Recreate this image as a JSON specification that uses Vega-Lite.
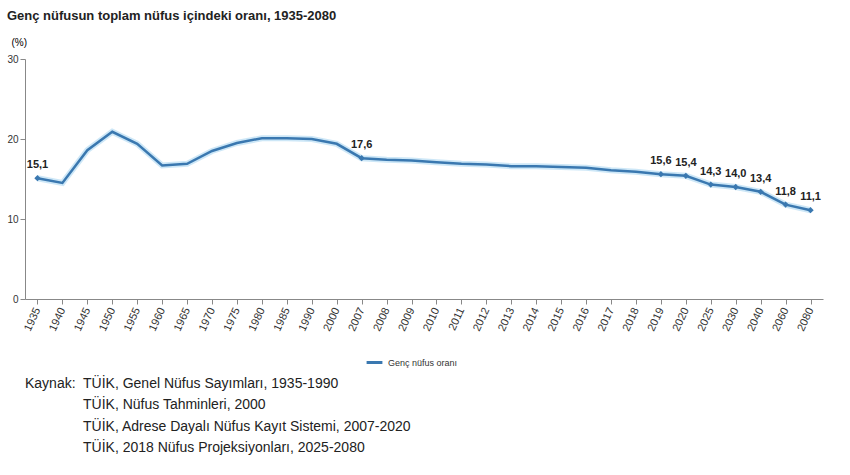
{
"$schema":"https://vega.github.io/schema/vega-lite/v6.json",
"padding":{"left":6,"top":10,"right":5,"bottom":0},
"title":{"text":"Genç nüfusun toplam nüfus içindeki oranı, 1935-2080","anchor":"start","font":"Liberation Sans","fontSize":13,"fontWeight":"bold","color":"#222","offset":14,"frame":"bounds"},
"config":{"font":"Liberation Sans","view":{"stroke":null},"concat":{"spacing":4}},
"resolve":{"legend":{"color":"independent"}},
"datasets":{
"main":[
{"yil":"1935","oran":15.1,"etiket":"15,1","seri":"Genç nüfus oranı"},
{"yil":"1940","oran":14.5,"etiket":null,"seri":"Genç nüfus oranı"},
{"yil":"1945","oran":18.6,"etiket":null,"seri":"Genç nüfus oranı"},
{"yil":"1950","oran":20.9,"etiket":null,"seri":"Genç nüfus oranı"},
{"yil":"1955","oran":19.4,"etiket":null,"seri":"Genç nüfus oranı"},
{"yil":"1960","oran":16.7,"etiket":null,"seri":"Genç nüfus oranı"},
{"yil":"1965","oran":16.9,"etiket":null,"seri":"Genç nüfus oranı"},
{"yil":"1970","oran":18.5,"etiket":null,"seri":"Genç nüfus oranı"},
{"yil":"1975","oran":19.5,"etiket":null,"seri":"Genç nüfus oranı"},
{"yil":"1980","oran":20.1,"etiket":null,"seri":"Genç nüfus oranı"},
{"yil":"1985","oran":20.1,"etiket":null,"seri":"Genç nüfus oranı"},
{"yil":"1990","oran":20.0,"etiket":null,"seri":"Genç nüfus oranı"},
{"yil":"2000","oran":19.4,"etiket":null,"seri":"Genç nüfus oranı"},
{"yil":"2007","oran":17.6,"etiket":"17,6","seri":"Genç nüfus oranı"},
{"yil":"2008","oran":17.4,"etiket":null,"seri":"Genç nüfus oranı"},
{"yil":"2009","oran":17.3,"etiket":null,"seri":"Genç nüfus oranı"},
{"yil":"2010","oran":17.1,"etiket":null,"seri":"Genç nüfus oranı"},
{"yil":"2011","oran":16.9,"etiket":null,"seri":"Genç nüfus oranı"},
{"yil":"2012","oran":16.8,"etiket":null,"seri":"Genç nüfus oranı"},
{"yil":"2013","oran":16.6,"etiket":null,"seri":"Genç nüfus oranı"},
{"yil":"2014","oran":16.6,"etiket":null,"seri":"Genç nüfus oranı"},
{"yil":"2015","oran":16.5,"etiket":null,"seri":"Genç nüfus oranı"},
{"yil":"2016","oran":16.4,"etiket":null,"seri":"Genç nüfus oranı"},
{"yil":"2017","oran":16.1,"etiket":null,"seri":"Genç nüfus oranı"},
{"yil":"2018","oran":15.9,"etiket":null,"seri":"Genç nüfus oranı"},
{"yil":"2019","oran":15.6,"etiket":"15,6","seri":"Genç nüfus oranı"},
{"yil":"2020","oran":15.4,"etiket":"15,4","seri":"Genç nüfus oranı"},
{"yil":"2025","oran":14.3,"etiket":"14,3","seri":"Genç nüfus oranı"},
{"yil":"2030","oran":14.0,"etiket":"14,0","seri":"Genç nüfus oranı"},
{"yil":"2040","oran":13.4,"etiket":"13,4","seri":"Genç nüfus oranı"},
{"yil":"2060","oran":11.8,"etiket":"11,8","seri":"Genç nüfus oranı"},
{"yil":"2080","oran":11.1,"etiket":"11,1","seri":"Genç nüfus oranı"}
],
"kaynak":[
{"sira":1,"bas":"Kaynak:","metin":"TÜİK, Genel Nüfus Sayımları, 1935-1990"},
{"sira":2,"bas":"","metin":"TÜİK, Nüfus Tahminleri, 2000"},
{"sira":3,"bas":"","metin":"TÜİK, Adrese Dayalı Nüfus Kayıt Sistemi, 2007-2020"},
{"sira":4,"bas":"","metin":"TÜİK, 2018 Nüfus Projeksiyonları, 2025-2080"}
]},
"vconcat":[
{"width":798,"height":240,
"data":{"name":"main"},
"encoding":{
"x":{"field":"yil","type":"ordinal","sort":null,"scale":{"paddingOuter":0.5,"paddingInner":0},"axis":{"title":null,"labelAngle":-65,"labelFontSize":11,"labelColor":"#333","domainColor":"#888","tickColor":"#888","labelPadding":4}},
"y":{"field":"oran","type":"quantitative","scale":{"domain":[0,30]},"axis":{"values":[0,10,20,30],"grid":false,"title":"(%)","titleAngle":0,"titleFontWeight":"normal","titleFontSize":10,"titleX":-14,"titleY":-12,"titleAlign":"left","labelFontSize":10,"labelColor":"#333","domainColor":"#888","tickColor":"#888"}}
},
"layer":[
{"mark":{"type":"line","strokeWidth":6,"color":"#9cd0f0","opacity":0.5}},
{"mark":{"type":"line","strokeWidth":2.5},"encoding":{"color":{"field":"seri","type":"nominal","scale":{"range":["#3a78b0"]},"legend":{"title":null,"orient":"none","legendX":340,"legendY":294,"direction":"horizontal","symbolType":"stroke","symbolStrokeWidth":3,"symbolSize":250,"labelFontSize":9,"labelColor":"#333"}}}},
{"transform":[{"filter":"datum.etiket != null"}],"mark":{"type":"point","shape":"diamond","filled":true,"size":40,"color":"#3a78b0","opacity":1}},
{"transform":[{"filter":"datum.etiket != null"}],"mark":{"type":"text","dy":-13,"fontSize":11,"fontWeight":"bold","color":"#222"},"encoding":{"text":{"field":"etiket"}}}
]},
{"width":798,"height":86,
"data":{"name":"kaynak"},
"encoding":{"y":{"field":"sira","type":"ordinal","axis":null}},
"layer":[
{"mark":{"type":"text","align":"left","fontSize":14,"color":"#222","x":0},"encoding":{"text":{"field":"bas"}}},
{"mark":{"type":"text","align":"left","fontSize":14,"color":"#222","x":58},"encoding":{"text":{"field":"metin"}}}
]}
]
}
